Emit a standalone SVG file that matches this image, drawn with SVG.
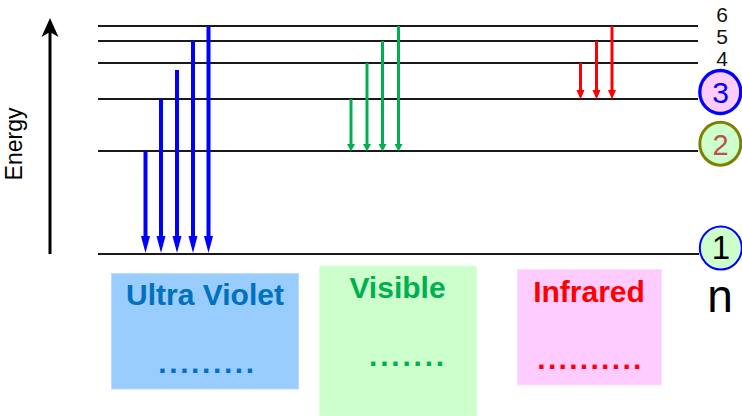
<svg xmlns="http://www.w3.org/2000/svg" width="742" height="416" viewBox="0 0 742 416">
<style>
.lvl{stroke:#1a1a1a;stroke-width:2;fill:none}
.uv{stroke:#0000ff;stroke-width:4;fill:none}
.vis{stroke:#00b050;stroke-width:3;fill:none}
.ir{stroke:#ff0000;stroke-width:3;fill:none}
.hb{fill:#0000ff}.hg{fill:#00b050}.hr{fill:#ff0000}
.t{font-family:"Liberation Sans",Arial,sans-serif}
.b{font-family:"Liberation Sans",Arial,sans-serif;font-weight:bold;font-size:30px;text-anchor:middle}
.num{font-family:"Liberation Sans",Arial,sans-serif;font-size:21px;fill:#111;text-anchor:middle}
</style>
<rect width="742" height="416" fill="#ffffff"/>
<g id="axis">
<line x1="50" y1="254" x2="50" y2="30" stroke="#000" stroke-width="3"/>
<path d="M50,18 L41.5,37 L50,32 L58.5,37 Z" fill="#000"/>
<text class="t" transform="translate(22,144) rotate(-90)" font-size="23" text-anchor="middle" fill="#000">Energy</text>
</g>
<g id="levels">
<line class="lvl" x1="98" y1="26" x2="698" y2="26"/>
<line class="lvl" x1="98" y1="41" x2="698" y2="41"/>
<line class="lvl" x1="98" y1="63" x2="698" y2="63"/>
<line class="lvl" x1="98" y1="99" x2="698" y2="99"/>
<line class="lvl" x1="98" y1="151" x2="698" y2="151"/>
<line class="lvl" x1="98" y1="254" x2="699" y2="254"/>
<text class="num" x="722" y="21.5">6</text>
<text class="num" x="722" y="44">5</text>
<text class="num" x="722" y="66">4</text>
</g>
<g id="connectors">
<line class="uv" x1="145.5" y1="151" x2="145.5" y2="238"/>
<path class="hb" d="M141,236 L150,236 L145.5,253 Z"/>
<line class="uv" x1="161" y1="99" x2="161" y2="238"/>
<path class="hb" d="M156.5,236 L165.5,236 L161,253 Z"/>
<line class="uv" x1="177" y1="70" x2="177" y2="238"/>
<path class="hb" d="M172.5,236 L181.5,236 L177,253 Z"/>
<line class="uv" x1="193" y1="41" x2="193" y2="238"/>
<path class="hb" d="M188.5,236 L197.5,236 L193,253 Z"/>
<line class="uv" x1="208.5" y1="26" x2="208.5" y2="238"/>
<path class="hb" d="M204,236 L213,236 L208.5,253 Z"/>
<line class="vis" x1="351" y1="99" x2="351" y2="145"/>
<path class="hg" d="M347,144 L355,144 L351,151.5 Z"/>
<line class="vis" x1="367" y1="63" x2="367" y2="145"/>
<path class="hg" d="M363,144 L371,144 L367,151.5 Z"/>
<line class="vis" x1="382.5" y1="41" x2="382.5" y2="145"/>
<path class="hg" d="M378.5,144 L386.5,144 L382.5,151.5 Z"/>
<line class="vis" x1="398.5" y1="26" x2="398.5" y2="145"/>
<path class="hg" d="M394.5,144 L402.5,144 L398.5,151.5 Z"/>
<line class="ir" x1="580.5" y1="63" x2="580.5" y2="91"/>
<path class="hr" d="M576.5,90 L584.5,90 L580.5,99.5 Z"/>
<line class="ir" x1="596.5" y1="41" x2="596.5" y2="91"/>
<path class="hr" d="M592.5,90 L600.5,90 L596.5,99.5 Z"/>
<line class="ir" x1="612" y1="26" x2="612" y2="91"/>
<path class="hr" d="M608,90 L616,90 L612,99.5 Z"/>
</g>
<g id="n3">
<ellipse cx="720.3" cy="92" rx="20.5" ry="21.5" fill="#ffccff" stroke="#0000ff" stroke-width="3.3"/>
<text class="t" x="720.5" y="103" font-size="30" text-anchor="middle" fill="#0000ff">3</text>
</g>
<g id="n2">
<ellipse cx="720.3" cy="143.7" rx="20.5" ry="21.5" fill="#ccffcc" stroke="#808000" stroke-width="3"/>
<text class="t" x="720.5" y="155" font-size="29" text-anchor="middle" fill="#c0504d">2</text>
</g>
<g id="n1">
<ellipse cx="720.8" cy="248" rx="21" ry="21.5" fill="#ccffcc" stroke="#0000ff" stroke-width="2"/>
<text class="t" x="721" y="258.5" font-size="33" text-anchor="middle" fill="#000">1</text>
</g>
<g id="nlabel">
<text class="t" x="720" y="312" font-size="46" text-anchor="middle" fill="#000">n</text>
</g>
<g id="uvbox">
<rect x="111.5" y="273.5" width="187" height="115.5" fill="#99ccff" stroke="#b8dbff" stroke-width="1"/>
<text class="b" x="205" y="305" fill="#0070c0" font-size="31.5">Ultra Violet</text>
<text class="b" x="207.5" y="373" fill="#0070c0" letter-spacing="2.6">.........</text>
</g>
<g id="visbox">
<rect x="319.5" y="266" width="157" height="150" fill="#ccffcc" stroke="#dcffdc" stroke-width="1"/>
<text class="b" x="397.5" y="298" fill="#00b050">Visible</text>
<text class="b" x="408" y="366" fill="#00b050" letter-spacing="2.8">.......</text>
</g>
<g id="irbox">
<rect x="517.5" y="269.5" width="144" height="115.5" fill="#ffccff" stroke="#ffdcff" stroke-width="1"/>
<text class="b" x="589" y="302" fill="#ff0000">Infrared</text>
<text class="b" x="590.5" y="369" fill="#ff0000" letter-spacing="2.3">..........</text>
</g>
</svg>
